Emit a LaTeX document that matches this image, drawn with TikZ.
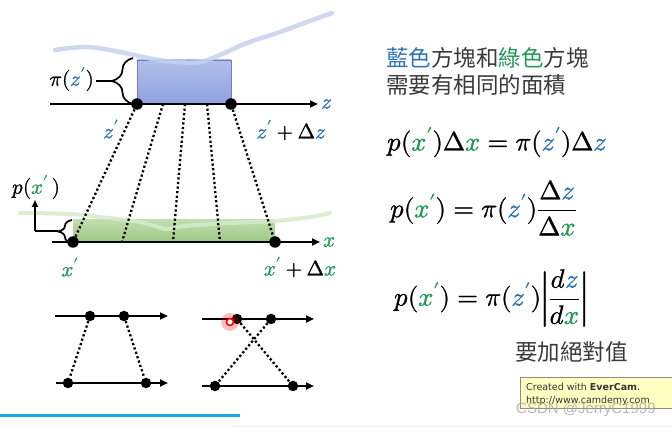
\documentclass[tikz,border=0pt]{standalone}
\usepackage{amsmath}
\usepackage{fontspec}
\usepackage{unicode-math}
\setmathfont{Latin Modern Math}[FakeBold=1.2]
\usetikzlibrary{decorations.pathreplacing,arrows.meta}
\newfontfamily\cjk{Noto Sans CJK TC}
\newfontfamily\dejavu{DejaVu Sans}
\newfontfamily\libsans{Liberation Sans}
\definecolor{zblue}{HTML}{2E75B6}
\definecolor{xgreen}{HTML}{1F9A55}
\definecolor{txtgray}{HTML}{3A3A3A}
\definecolor{rectop}{HTML}{B2BFEB}
\definecolor{recbot}{HTML}{8FA1DE}
\definecolor{recdraw}{HTML}{6A80CC}
\definecolor{wavblue}{HTML}{C6D2EC}
\definecolor{grtop}{HTML}{C2DDAE}
\definecolor{grbot}{HTML}{9CC884}
\definecolor{wavgreen}{HTML}{D6EBCB}
\definecolor{evfill}{HTML}{FFFFC2}
\definecolor{barblue}{HTML}{1AA6E6}
\newcommand{\myz}{{\color{zblue}z}}
\newcommand{\myx}{{\color{xgreen}x}}
\newcommand{\myzp}{{\color{zblue}z'}}
\newcommand{\myxp}{{\color{xgreen}x'}}
\tikzset{
  dot/.style={circle, fill=black, inner sep=0pt, minimum size=11.5pt},
  sdot/.style={circle, fill=black, inner sep=0pt, minimum size=10.5pt},
  axis/.style={line width=2.2pt, -{Triangle[length=8pt,width=7pt]}},
  dots/.style={line width=2.3pt, dash pattern=on 2.2pt off 2.4pt},
  lab/.style={inner sep=0pt, font=\fontsize{21}{24}\selectfont},
  eq/.style={inner sep=0pt, anchor=west, font=\fontsize{26.5}{30}\selectfont},
  cjktxt/.style={inner sep=0pt, anchor=west, font=\cjk\fontsize{22.5}{26}\selectfont, text=txtgray},
}
\begin{document}
\begin{tikzpicture}[x=1pt,y=-1pt]
\useasboundingbox (0,0) rectangle (672,427);
\fill[white] (0,0) rectangle (672,427);

% ---------- top: z axis with blue block ----------
\shade[top color=rectop, bottom color=recbot, draw=recdraw, line width=0.8pt] (137,60) rectangle (231,104);
\draw[line width=4.5pt, wavblue, opacity=0.85, line cap=round]
  plot[smooth, tension=0.6] coordinates {(55,50) (87,47) (120,52) (153,59) (177,62) (200,62) (220,55) (247,43) (280,32) (307,22) (332,13)};

\coordinate (zs) at (50,104);
\coordinate (ze) at (318,104);
\draw[axis] (zs) -- (ze);
\node[lab, anchor=west] (zlab) at (321,104) {$\myz$};

\node[dot] (z1) at (137,104) {};
\node[dot] (z2) at (231,104) {};
\coordinate (zm1) at (163,104);
\coordinate (zm2) at (185,104);
\coordinate (zm3) at (207,104);

\draw[decorate, decoration={brace, amplitude=21pt}, line width=1.7pt] (133,104) -- (133,58);
\coordinate (bt) at (112,81);
\coordinate (bl) at (96,81);
\draw[line width=1.7pt] (bl) -- (bt);
\node[lab, anchor=east] (pilab) at (94,79) {$\pi(\myzp)$};

\node[lab] (z1lab) at (111,129) {$\myzp$};
\node[lab] (z2lab) at (291,130) {$\myzp+\Delta\myz$};

% ---------- bottom: x axis with green block ----------
\shade[top color=grtop, bottom color=grbot] (73,220) rectangle (275,242);
\draw[line width=4pt, wavgreen, opacity=0.85, line cap=round]
  plot[smooth, tension=0.6] coordinates {(20,213) (70,214) (110,218) (140,222) (158,227) (168,229) (185,226) (230,223) (275,221) (310,217) (330,213)};

\coordinate (xs) at (52,242);
\coordinate (xe) at (320,242);
\draw[axis] (xs) -- (xe);
\node[lab, anchor=west] (xlab) at (323,242) {$\myx$};

\node[dot] (x1) at (73,242) {};
\node[dot] (x2) at (275,242) {};
\coordinate (xm1) at (122,242);
\coordinate (xm2) at (173,242);
\coordinate (xm3) at (220,242);

\draw[dots] (z1) -- (x1);
\draw[dots] (zm1) -- (xm1);
\draw[dots] (zm2) -- (xm2);
\draw[dots] (zm3) -- (xm3);
\draw[dots] (z2) -- (x2);

\draw[decorate, decoration={brace, amplitude=14pt}, line width=1.7pt] (72,243) -- (72,220);
\coordinate (sbt) at (58,231);
\coordinate (sbl) at (35,231);
\coordinate (sup) at (35,200);
\draw[line width=1.7pt] (sbt) -- (sbl);
\draw[line width=1.9pt, -{Triangle[length=7pt,width=6pt]}] (sbl) -- (sup);
\node[lab, anchor=center] (plab) at (36,187) {$p(\myxp\,)$};

\node[lab] (x1lab) at (70,267) {$\myxp$};
\node[lab] (x2lab) at (300,267) {$\myxp+\Delta\myx$};

% ---------- small diagrams ----------
\coordinate (a1s) at (55,316); \coordinate (a1e) at (168,316);
\coordinate (a2s) at (56,383); \coordinate (a2e) at (168,383);
\draw[axis, line width=2pt] (a1s) -- (a1e);
\draw[axis, line width=2pt] (a2s) -- (a2e);
\node[sdot] (p1) at (90,316) {};
\node[sdot] (p2) at (124,316) {};
\node[sdot] (q1) at (68,383) {};
\node[sdot] (q2) at (146,383) {};
\draw[dots] (p1) -- (q1);
\draw[dots] (p2) -- (q2);

\coordinate (b1s) at (202,319); \coordinate (b1e) at (314,319);
\coordinate (b2s) at (202,386); \coordinate (b2e) at (314,386);
\draw[axis, line width=2pt] (b1s) -- (b1e);
\draw[axis, line width=2pt] (b2s) -- (b2e);
\node[sdot] (r1) at (237,319) {};
\node[sdot] (r2) at (271,319) {};
\node[sdot] (s1) at (215,386) {};
\node[sdot] (s2) at (293,386) {};
\draw[dots] (r1) -- (s2);
\draw[dots] (r2) -- (s1);
% cursor highlight
\fill[red, opacity=0.25] (230,322) circle (9pt);
\node[circle, draw=red, fill=white, line width=1.6pt, inner sep=0pt, minimum size=7pt] (cursor) at (230,322) {};

% bottom strips
\draw[line width=3pt, barblue] (0,416) -- (240,416);
\draw[line width=0.8pt, black!8] (230,426) -- (672,426);

% ---------- right side text ----------
\node[cjktxt] (t1) at (386,58) {{\color{zblue}藍色}方塊和{\color{xgreen}綠色}方塊};
\node[cjktxt] (t2) at (386,85) {需要有相同的面積};

\node[eq] (e1) at (387,142) {$p(\myxp)\Delta\myx = \pi(\myzp)\Delta\myz$};
\node[eq] (e2) at (390,208) {$p(\myxp) = \pi(\myzp)\dfrac{\Delta\myz}{\Delta\myx}$};
\node[eq] (e3) at (394,298) {$p(\myxp) = \pi(\myzp){\left|\dfrac{d\myz}{d\myx}\right|}$};

\node[cjktxt] (t3) at (515,352) {要加絕對值};

% EverCam box
\draw[fill=evfill, draw=black!45, line width=0.8pt] (520,377) rectangle (675,408);
\node[inner sep=0pt, anchor=west, font=\dejavu\fontsize{9.5}{11}\selectfont, text=black!80] (ev1) at (526,387) {Created with \textbf{EverCam}.};
\node[inner sep=0pt, anchor=west, font=\dejavu\fontsize{9.5}{11}\selectfont, text=black!80] (ev2) at (526,401) {http://www.camdemy.com};
\node[inner sep=0pt, anchor=west, font=\libsans\fontsize{15}{17}\selectfont, text=black!35, opacity=0.8] (wm) at (516,410) {CSDN @JerryC1999};
\end{tikzpicture}
\end{document}
